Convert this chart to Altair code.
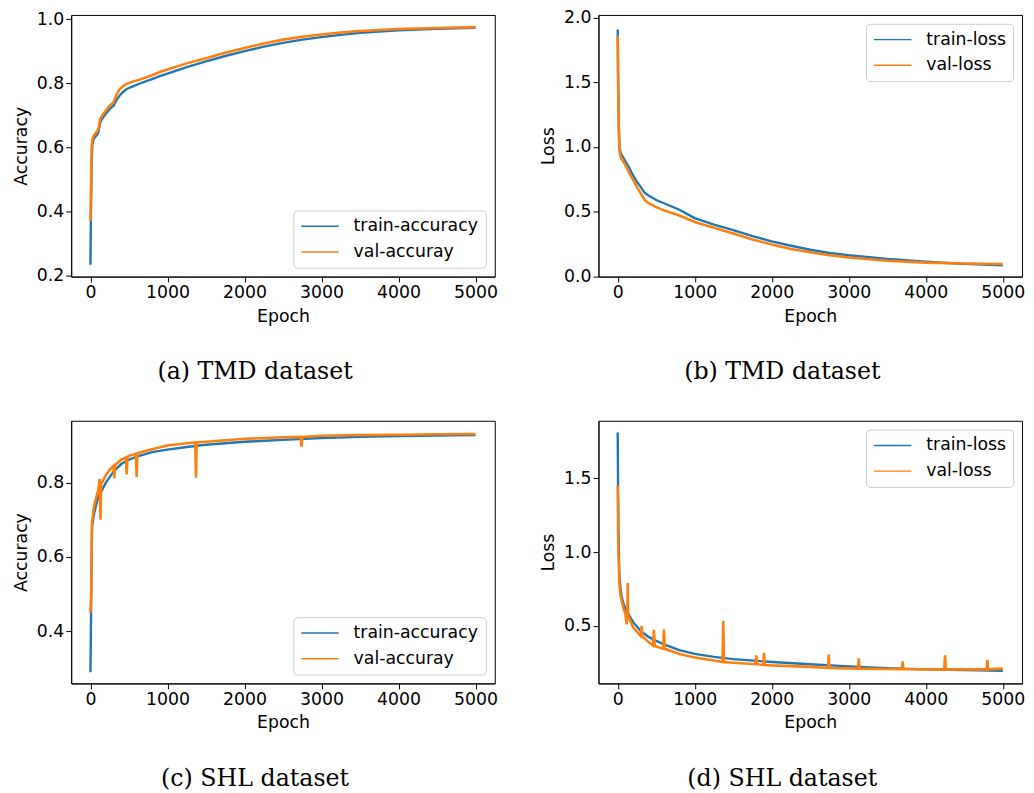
import altair as alt
import pandas as pd

BLUE = "#1f77b4"
ORANGE = "#ff7f0e"

x_ticks = [0, 1000, 2000, 3000, 4000, 5000]

# ---------- (a) TMD accuracy ----------
epochs_a = [0, 5, 15, 25, 40, 70, 100, 130, 170, 200, 250, 300, 340, 380, 420, 470,
            550, 650, 800, 900, 1000, 1250, 1500, 1750, 2000, 2250, 2500, 2750, 3000,
            3250, 3500, 4000, 4500, 5000]
train_acc_a = [0.234, 0.36, 0.55, 0.61, 0.625, 0.635, 0.645, 0.68, 0.695, 0.705, 0.72,
               0.73, 0.748, 0.762, 0.772, 0.782, 0.79, 0.80, 0.813, 0.822, 0.83, 0.85,
               0.868, 0.885, 0.90, 0.914, 0.926, 0.936, 0.944, 0.951, 0.957, 0.965,
               0.970, 0.973]
val_acc_a = [0.37, 0.45, 0.60, 0.625, 0.635, 0.645, 0.655, 0.69, 0.705, 0.715, 0.73,
             0.74, 0.765, 0.782, 0.79, 0.798, 0.805, 0.812, 0.825, 0.835, 0.843, 0.862,
             0.878, 0.895, 0.91, 0.924, 0.936, 0.945, 0.952, 0.958, 0.963, 0.969,
             0.972, 0.975]

# ---------- (b) TMD loss ----------
epochs_b = [0, 5, 15, 25, 40, 70, 100, 150, 200, 250, 300, 350, 400, 500, 600, 800,
            1000, 1250, 1500, 1750, 2000, 2250, 2500, 2750, 3000, 3500, 4000, 4500, 5000]
train_loss_b = [1.91, 1.55, 1.15, 0.99, 0.95, 0.92, 0.89, 0.84, 0.78, 0.73, 0.69, 0.645,
                0.625, 0.59, 0.565, 0.515, 0.45, 0.40, 0.357, 0.31, 0.27, 0.236, 0.205,
                0.18, 0.162, 0.133, 0.112, 0.096, 0.085]
val_loss_b = [1.86, 1.50, 1.10, 0.96, 0.92, 0.89, 0.86, 0.80, 0.745, 0.69, 0.64, 0.59,
              0.565, 0.535, 0.51, 0.47, 0.42, 0.375, 0.33, 0.285, 0.245, 0.21, 0.185,
              0.163, 0.145, 0.12, 0.105, 0.098, 0.095]

# ---------- (c) SHL accuracy ----------
epochs_c_train = [0, 5, 10, 20, 35, 50, 75, 100, 150, 200, 250, 300, 400, 500, 600, 800,
                  1000, 1250, 1500, 2000, 2500, 3000, 3500, 4000, 4500, 5000]
train_acc_c = [0.29, 0.38, 0.50, 0.68, 0.70, 0.72, 0.74, 0.76, 0.78, 0.80, 0.815, 0.83,
               0.85, 0.862, 0.87, 0.882, 0.889, 0.896, 0.902, 0.91, 0.915, 0.92, 0.923,
               0.925, 0.927, 0.928]
epochs_c_val = [0, 5, 10, 20, 35, 50, 75, 100, 120, 130, 140, 150, 200, 250, 300, 310,
                320, 400, 460, 470, 480, 500, 590, 600, 610, 800, 1000, 1250, 1360, 1370,
                1380, 1500, 2000, 2500, 2730, 2740, 2750, 3000, 3500, 4000, 4500, 5000]
val_acc_c = [0.45, 0.48, 0.51, 0.69, 0.72, 0.74, 0.76, 0.78, 0.81, 0.70, 0.80, 0.80,
             0.82, 0.835, 0.845, 0.812, 0.847, 0.862, 0.868, 0.822, 0.869, 0.872, 0.878,
             0.815, 0.879, 0.89, 0.900, 0.906, 0.908, 0.813, 0.908, 0.91, 0.918, 0.922,
             0.923, 0.897, 0.923, 0.926, 0.928, 0.929, 0.930, 0.931]

# ---------- (d) SHL loss ----------
epochs_d_train = [0, 5, 10, 20, 35, 50, 75, 100, 150, 200, 300, 400, 500, 600, 800,
                  1000, 1250, 1500, 2000, 2500, 3000, 3500, 4000, 4500, 5000]
train_loss_d = [1.81, 1.40, 1.15, 0.86, 0.76, 0.70, 0.65, 0.62, 0.57, 0.525, 0.465,
                0.425, 0.398, 0.375, 0.335, 0.31, 0.29, 0.275, 0.255, 0.24, 0.225,
                0.213, 0.205, 0.20, 0.196]
epochs_d_val = [0, 5, 10, 20, 35, 50, 75, 100, 115, 125, 130, 135, 150, 200, 300, 310,
                320, 400, 460, 470, 480, 500, 590, 600, 610, 800, 1000, 1250, 1360, 1370,
                1380, 1500, 1790, 1800, 1810, 1890, 1900, 1910, 2000, 2500, 2730, 2740,
                2750, 3000, 3120, 3130, 3140, 3500, 3690, 3700, 3710, 4000, 4240, 4250,
                4260, 4500, 4790, 4800, 4810, 5000]
val_loss_d = [1.45, 1.15, 1.0, 0.80, 0.71, 0.67, 0.62, 0.58, 0.51, 0.56, 0.79, 0.56,
              0.55, 0.49, 0.43, 0.50, 0.43, 0.39, 0.365, 0.473, 0.365, 0.36, 0.345,
              0.475, 0.345, 0.31, 0.285, 0.265, 0.255, 0.533, 0.255, 0.25, 0.24, 0.30,
              0.24, 0.235, 0.318, 0.235, 0.232, 0.222, 0.215, 0.305, 0.215, 0.212, 0.21,
              0.28, 0.21, 0.208, 0.207, 0.26, 0.207, 0.205, 0.205, 0.30, 0.205, 0.205,
              0.205, 0.27, 0.205, 0.21]

FONT = "DejaVu Sans"
FS = 17.5


def panel(ep_t, train, ep_v, val, names, ytitle, ydomain, yticks, legend_orient,
          caption, h):
    df_t = pd.DataFrame({"epoch": ep_t, "value": train, "series": names[0]})
    df_v = pd.DataFrame({"epoch": ep_v, "value": val, "series": names[1]})
    color = alt.Color(
        "series:N",
        scale=alt.Scale(domain=names, range=[BLUE, ORANGE]),
        sort=names,
        legend=alt.Legend(
            title=None, orient=legend_orient, offset=9, fillColor="white",
            strokeColor="#cccccc", cornerRadius=4, padding=7,
            symbolType="stroke", symbolSize=1444, symbolStrokeWidth=1.5,
            clipHeight=18, labelOffset=14, labelFont=FONT, labelFontSize=FS,
            labelColor="black", rowPadding=8, labelLimit=300,
        ),
    )
    x = alt.X("epoch:Q",
              scale=alt.Scale(domain=[-250, 5250], nice=False, zero=False),
              axis=alt.Axis(values=x_ticks, format="d", title="Epoch"))
    y = alt.Y("value:Q",
              scale=alt.Scale(domain=ydomain, nice=False, zero=False),
              axis=alt.Axis(values=yticks, format=".1f", title=ytitle))
    lt = alt.Chart(df_t).mark_line(strokeWidth=2.4).encode(x=x, y=y, color=color)
    lv = alt.Chart(df_v).mark_line(strokeWidth=2.6).encode(x=x, y=y, color=color)
    return alt.layer(lt, lv).properties(
        width=429, height=h,
        title=alt.TitleParams(caption, orient="bottom", anchor="middle", frame="bounds",
                              offset=36, font="DejaVu Serif", fontSize=24,
                              fontWeight="normal", color="black"),
    )


pa = panel(epochs_a, train_acc_a, epochs_a, val_acc_a,
           ["train-accuracy", "val-accuray"], "Accuracy", [0.197, 1.013],
           [0.2, 0.4, 0.6, 0.8, 1.0], "bottom-right", "(a) TMD dataset", 265)
pb = panel(epochs_b, train_loss_b, epochs_b, val_loss_b,
           ["train-loss", "val-loss"], "Loss", [-0.003, 2.023],
           [0.0, 0.5, 1.0, 1.5, 2.0], "top-right", "(b) TMD dataset", 265)
pc = panel(epochs_c_train, train_acc_c, epochs_c_val, val_acc_c,
           ["train-accuracy", "val-accuray"], "Accuracy", [0.26, 0.9665],
           [0.4, 0.6, 0.8], "bottom-right", "(c) SHL dataset", 266)
pd_ = panel(epochs_d_train, train_loss_d, epochs_d_val, val_loss_d,
            ["train-loss", "val-loss"], "Loss", [0.11, 1.89],
            [0.5, 1.0, 1.5], "top-right", "(d) SHL dataset", 266)

chart = alt.concat(
    pa, pb, pc, pd_, columns=2,
    spacing=alt.RowColnumber(row=146, column=105), bounds="flush",
).resolve_scale(
    color="independent", x="independent", y="independent"
).properties(
    padding={"left": 4, "top": -5, "right": 0, "bottom": 0},
    background="white",
).configure_view(
    stroke="black", strokeWidth=1
).configure_axis(
    grid=False, domainColor="black", domainWidth=1, tickColor="black", tickSize=5.5,
    tickWidth=1, labelFont=FONT, labelFontSize=FS, labelColor="black", labelPadding=2,
    titleFont=FONT, titleFontSize=FS, titleFontWeight="normal", titleColor="black",
    titlePadding=6,
)

chart.save("out.html", embed_options={"renderer": "svg", "actions": False})
